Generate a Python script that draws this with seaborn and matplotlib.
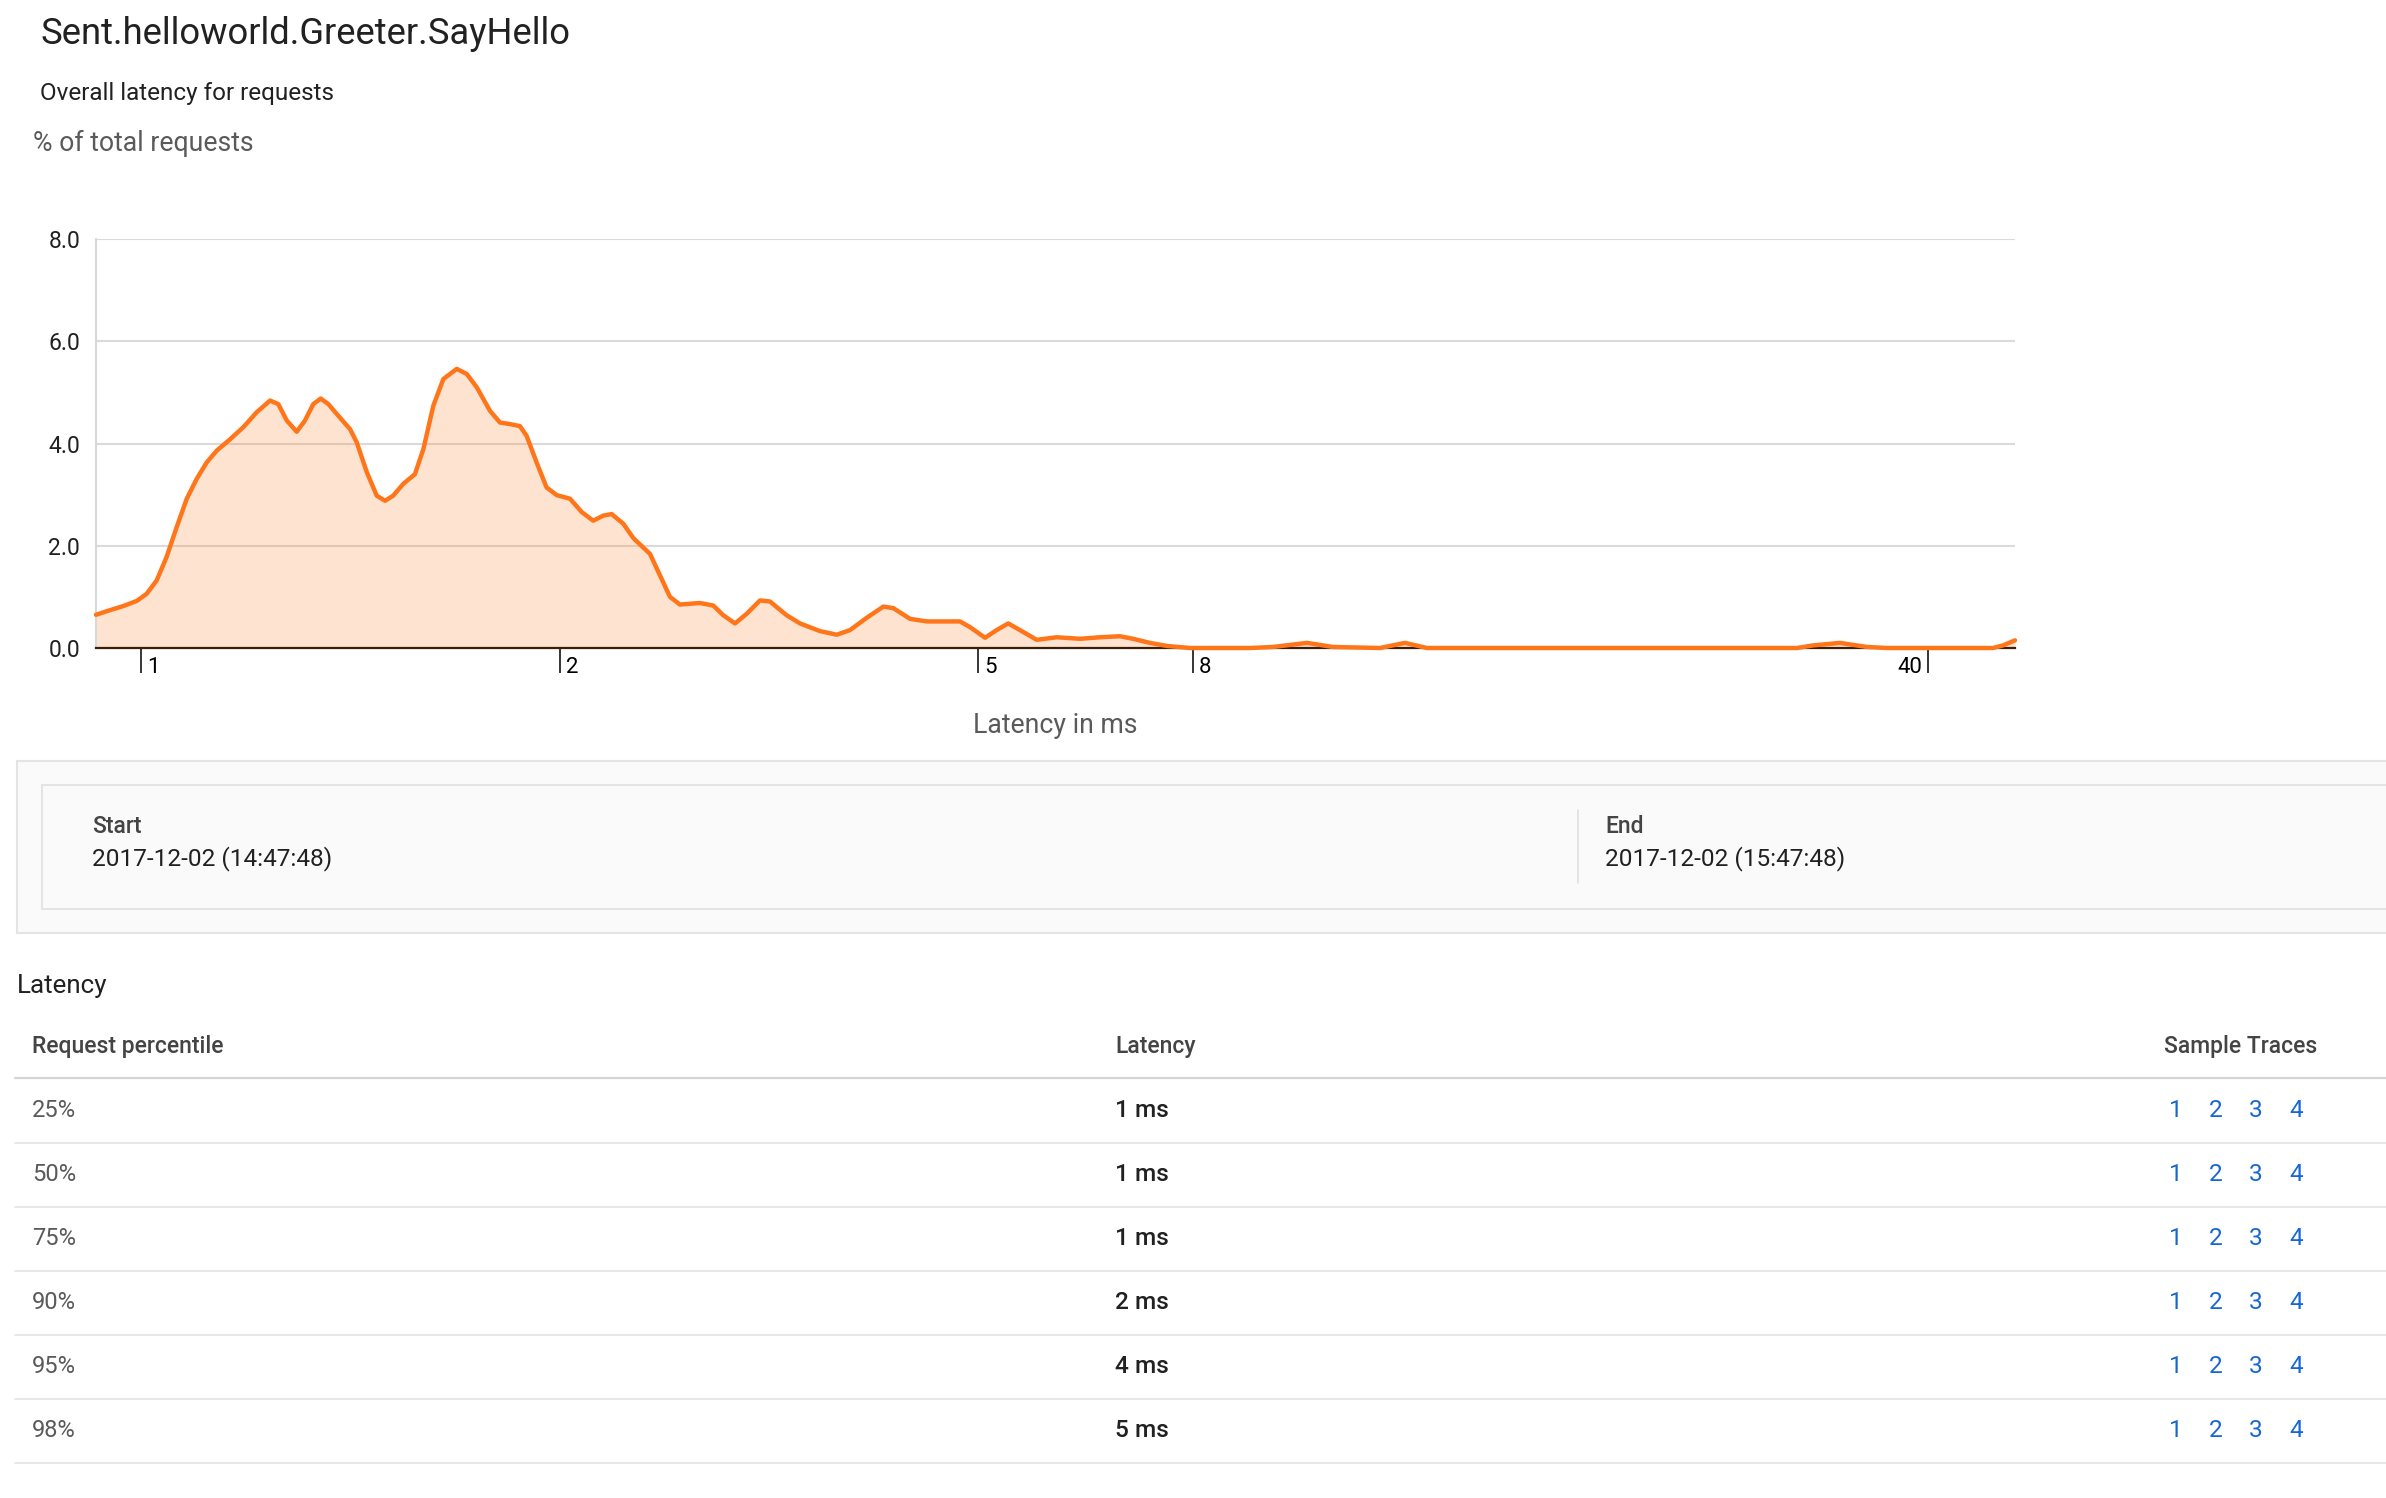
import matplotlib
matplotlib.use("Agg")
import matplotlib.pyplot as plt
import pandas as pd
import seaborn as sns
from matplotlib.patches import Rectangle
from matplotlib.lines import Line2D

# latency histogram: position along the bucket axis (0-100 across the plot) and % of total requests
bucket_pos = [0.0, 0.73, 1.42, 2.12, 2.64, 3.16, 3.68, 4.20, 4.73, 5.25, 5.77, 6.29, 6.98, 7.68,
              8.37, 9.07, 9.50, 9.94, 10.46, 10.89, 11.32, 11.71, 12.11, 12.54, 13.24, 13.59,
              14.11, 14.63, 15.06, 15.49, 16.01, 16.62, 17.06, 17.58, 18.10, 18.80, 19.32, 19.84,
              20.53, 21.05, 21.57, 22.09, 22.44, 22.96, 23.48, 24.01, 24.70, 25.31, 25.91, 26.44,
              26.87, 27.48, 28.00, 28.87, 29.39, 29.91, 30.43, 31.47, 32.17, 32.69, 33.30, 33.91,
              34.60, 35.12, 35.99, 36.69, 37.73, 38.60, 39.29, 40.16, 41.03, 41.55, 42.42, 43.29,
              45.02, 45.54, 46.33, 46.93, 47.54, 48.15, 49.02, 50.06, 51.28, 52.32, 53.36, 54.04,
              54.92, 55.81, 57.01, 60.14, 61.33, 63.11, 64.46, 66.91, 68.21, 69.36, 88.64, 89.47,
              90.88, 92.29, 93.33, 98.85, 99.37, 100.0]
pct_requests = [0.65, 0.74, 0.82, 0.92, 1.06, 1.32, 1.78, 2.36, 2.92, 3.31, 3.63, 3.86, 4.08, 4.32,
                4.61, 4.84, 4.77, 4.45, 4.23, 4.45, 4.77, 4.88, 4.77, 4.58, 4.28, 4.02,
                3.44, 2.98, 2.88, 2.98, 3.21, 3.40, 3.89, 4.74, 5.26, 5.46, 5.36, 5.10,
                4.64, 4.41, 4.38, 4.34, 4.15, 3.63, 3.14, 2.99, 2.92, 2.66, 2.49, 2.59,
                2.62, 2.43, 2.15, 1.84, 1.42, 1.00, 0.85, 0.88, 0.83, 0.64, 0.48, 0.67,
                0.93, 0.91, 0.64, 0.48, 0.33, 0.26, 0.35, 0.59, 0.81, 0.78, 0.57, 0.52,
                0.52, 0.41, 0.20, 0.35, 0.48, 0.35, 0.16, 0.21, 0.18, 0.21, 0.23, 0.18,
                0.10, 0.04, 0.0, 0.0, 0.02, 0.10, 0.02, 0.0, 0.10, 0.0, 0.0, 0.05,
                0.10, 0.02, 0.0, 0.0, 0.05, 0.15]

tick_pos = [2.33, 24.18, 45.96, 57.16, 95.47]
tick_labels = ["1", "2", "5", "8", "40"]
y_ticks = [0, 2, 4, 6, 8]

percentiles = ["25%", "50%", "75%", "90%", "95%", "98%"]
latency_ms = [1, 1, 1, 2, 4, 5]
trace_links = ["1", "2", "3", "4"]

start_time = "2017-12-02 (14:47:48)"
end_time = "2017-12-02 (15:47:48)"

sns.set_theme(style="white")
plt.rcParams["font.family"] = ["Roboto", "DejaVu Sans"]

W, H = 2386, 1498
ORANGE = "#ff761a"
DARK = "#212121"
GREY = "#5a5a5a"


def fx(x):
    return x / W


def fy(y):
    return 1 - y / H


fig = plt.figure(figsize=(W / 100, H / 100), dpi=100)
fig.patch.set_facecolor("white")

ax = fig.add_axes([fx(96), fy(648), (2015 - 96) / W, (648 - 239) / H])
df = pd.DataFrame({"pos": bucket_pos, "pct": pct_requests})
ax.fill_between(df["pos"], df["pct"], 0, color=ORANGE, alpha=0.2, linewidth=0, zorder=2)
sns.lineplot(data=df, x="pos", y="pct", ax=ax, color=ORANGE, linewidth=3.2, zorder=3)
for ln in ax.lines:
    ln.set_clip_on(False)
    ln.set_solid_capstyle("round")
    ln.set_solid_joinstyle("round")

ax.set_xlim(0, 100)
ax.set_ylim(0, 8)
ax.set_xlabel("")
ax.set_ylabel("")
ax.set_yticks(y_ticks)
ax.set_yticklabels([f"{v:.1f}" for v in y_ticks])
ax.yaxis.grid(True, color="#dadada", linewidth=1.5)
ax.set_axisbelow(True)
for s in ["top", "right"]:
    ax.spines[s].set_visible(False)
ax.spines["left"].set_color("#d8d8d8")
ax.spines["left"].set_linewidth(1.5)
ax.spines["bottom"].set_color("#3b1d08")
ax.spines["bottom"].set_linewidth(1.6)
ax.tick_params(axis="y", length=0, pad=11.5, labelsize=16.5, labelcolor=DARK)
ax.set_xticks(tick_pos)
ax.set_xticklabels([])
ax.tick_params(axis="x", bottom=True, direction="out", length=18, width=1.1, color="black")
for i, (p, lab) in enumerate(zip(tick_pos, tick_labels)):
    last = i == len(tick_pos) - 1
    ax.annotate(lab, xy=(p, 0), xycoords=("data", "axes fraction"),
                xytext=(-4.5 if last else 4.5, -18), textcoords="offset points",
                ha="right" if last else "left", va="baseline", fontsize=16, color="black")

# headings
fig.text(fx(40), fy(44), "Sent.helloworld.Greeter.SayHello", fontsize=26.2, color=DARK, va="baseline")
fig.text(fx(40), fy(100), "Overall latency for requests", fontsize=17.5, color=DARK, va="baseline")
fig.text(fx(33), fy(151), "% of total requests", fontsize=19.2, color=GREY, va="baseline")
fig.text(fx(1055), fy(733), "Latency in ms", fontsize=19.2, color=GREY, ha="center", va="baseline")

# time range box
fig.add_artist(Rectangle((fx(17), fy(933)), fx(2400) - fx(17), (933 - 761) / H,
                         transform=fig.transFigure, facecolor="#fafafa", edgecolor="#e4e4e4", lw=1.5))
fig.add_artist(Rectangle((fx(42), fy(909)), fx(2400) - fx(42), (909 - 785) / H,
                         transform=fig.transFigure, facecolor="#fafafa", edgecolor="#e4e4e4", lw=1.5))
fig.add_artist(Line2D([fx(1578), fx(1578)], [fy(810), fy(883)], color="#e0e0e0", lw=1.2))
fig.text(fx(92), fy(833), "Start", fontsize=16.5, color="#444444", fontweight="medium", va="baseline")
fig.text(fx(92), fy(865), start_time, fontsize=17.6, color=DARK, va="baseline")
fig.text(fx(1605), fy(833), "End", fontsize=16.5, color="#444444", fontweight="medium", va="baseline")
fig.text(fx(1605), fy(865), end_time, fontsize=17.6, color=DARK, va="baseline")

# latency table
fig.text(fx(17), fy(993), "Latency", fontsize=18.7, color=DARK, va="baseline")
fig.text(fx(32), fy(1053), "Request percentile", fontsize=16.5, color="#444444", fontweight="medium", va="baseline")
fig.text(fx(1115), fy(1053), "Latency", fontsize=16.5, color="#444444", fontweight="medium", va="baseline")
fig.text(fx(2164), fy(1053), "Sample Traces", fontsize=16.5, color="#444444", fontweight="medium", va="baseline")
fig.add_artist(Line2D([fx(15), 1], [fy(1078), fy(1078)], color="#d4d4d4", lw=1.6))

trace_x = [2169, 2209, 2249, 2289]
for i, (p, ms) in enumerate(zip(percentiles, latency_ms)):
    base = 1117 + 64 * i
    fig.text(fx(32), fy(base), p, fontsize=17, color=GREY, va="baseline")
    fig.text(fx(1115), fy(base), f"{ms} ms", fontsize=17.6, color=DARK, fontweight="medium", va="baseline")
    for tx, t in zip(trace_x, trace_links):
        fig.text(fx(tx), fy(base), t, fontsize=17.6, color="#1766d1", va="baseline")
    ly = 1143 + 64 * i
    fig.add_artist(Line2D([fx(15), 1], [fy(ly), fy(ly)], color="#e8e8e8", lw=1.5))

fig.savefig("out.png", dpi=100)
